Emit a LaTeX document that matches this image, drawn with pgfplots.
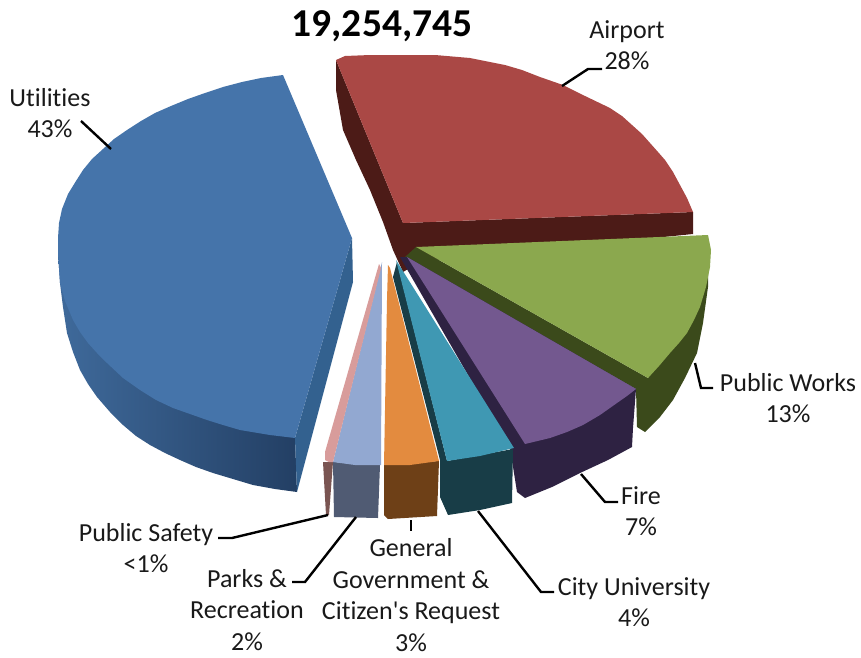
\documentclass[border=0pt]{standalone}
\usepackage{fontspec}
\setmainfont{Carlito}[Ligatures={TeXOff,NoCommon}]
\usepackage{pgfplots}
\pgfplotsset{compat=1.18}
\definecolor{blueTop}{HTML}{4574AA}
\definecolor{blueIn}{HTML}{33618F}
\definecolor{blueA}{HTML}{3F6A9B}
\definecolor{blueB}{HTML}{233F64}
\definecolor{redTop}{HTML}{AA4845}
\definecolor{redSide}{HTML}{4C1B17}
\definecolor{greenTop}{HTML}{8BA84E}
\definecolor{greenSide}{HTML}{3B4A1B}
\definecolor{purpleTop}{HTML}{73588F}
\definecolor{purpleSide}{HTML}{2E2242}
\definecolor{tealTop}{HTML}{3F98B3}
\definecolor{tealSide}{HTML}{183D47}
\definecolor{orangeTop}{HTML}{E38B3F}
\definecolor{orangeSide}{HTML}{6E4017}
\definecolor{lightTop}{HTML}{92A8D1}
\definecolor{lightSide}{HTML}{505B73}
\definecolor{pinkTop}{HTML}{D89C9B}
\definecolor{pinkSide}{HTML}{7A5552}
\newcommand{\lab}[3]{\node[align=center,font=\fontsize{26}{31.5}\selectfont,text=black!90] at (axis cs:#1,#2) {#3};}
\begin{document}
\begin{tikzpicture}
\begin{axis}[
  scale only axis, width=861pt, height=657pt,
  xmin=0, xmax=861, ymin=0, ymax=657, y dir=reverse,
  hide axis, clip=false]
% Utilities: outer rim, cut face, top
\addplot[draw=none, left color=blueA, right color=blueB] coordinates {
 (58,253)(60,283)(63,307)(67,333)(73,352)(80,370)(88,384)(97,397)(110,412)(123,425)(136,436)(150,445)
 (165,453)(180,460)(196,467)(213,473)(233,479)(253,485)(275,489)(297,492)
 (295,438)(240,400)(140,340)} --cycle;
\addplot[draw=none, fill=blueIn] coordinates {(295,438)(297,492)(353,282)(352,238)} --cycle;
\addplot[draw=none, fill=blueTop] coordinates {
 (352,238)(283,75)(261,78)(242,82)(223,87)(205,93)(188,99)(171,106)(155,113)(141,121)(127,130)(114,139)
 (103,149)(92,159)(83,170)(76,181)(68,194)(62,209)(59,223)(58,238)(58,253)(60,283)(65,301)(73,320)(80,332)
 (88,343)(97,353)(107,363)(123,378)(140,390)(156,400)(173,408)(190,414)(207,420)(223,425)(240,430)(270,435)(295,438)} --cycle;
% Airport
\addplot[draw=none, fill=redSide] coordinates {
 (336,60)(336,90)(343,130)(356,160)(370,190)(383,222)(393,250)(403,272)(420,262)(693,234)(693,212)(403,223)} --cycle;
\addplot[draw=none, fill=redTop] coordinates {
 (336,60)(345,56)(370,55)(400,55)(435,55)(470,58)(505,65)(522,70)(540,77)(563,85)(585,96)(610,108)(622,116)(632,125)
 (642,134)(650,143)(658,152)(665,160)(673,172)(680,185)(687,198)(693,212)(403,223)} --cycle;
% Public Works
\addplot[draw=none, fill=greenSide] coordinates {
 (416,247)(648,378)(708,270)(708,287)(703,323)(697,353)(685,378)(673,400)(660,417)(645,432)(637,427)(636,389)(405,257)} --cycle;
\addplot[draw=none, fill=greenTop] coordinates {
 (416,247)(708,235)(711,250)(710,267)(706,287)(700,307)(694,320)(687,333)(679,343)(670,353)(659,366)(648,378)} --cycle;
% Fire
\addplot[draw=none, fill=purpleSide] coordinates {
 (400,257)(510,448)(517,492)(525,498)(552,487)(580,473)(608,460)(632,447)(633,428)(636,389)(407,257)} --cycle;
\addplot[draw=none, fill=purpleTop] coordinates {
 (407,257)(636,389)(627,396)(617,403)(600,415)(583,425)(567,432)(550,438)(525,444)} --cycle;
% City University
\addplot[draw=none, fill=tealSide] coordinates {
 (393,277)(397,262)(447,461)(513,449)(512,503)(480,510)(448,515)(440,497)(440,460)} --cycle;
\addplot[draw=none, fill=tealTop] coordinates {
 (396,260)(514,448)(480,456)(447,461)} --cycle;
% General Government
\addplot[draw=none, fill=orangeSide] coordinates {
 (384,465)(384,515)(388,519)(437,516)(439,461)} --cycle;
\addplot[draw=none, fill=orangeTop] coordinates {
 (388,265)(390,268)(439,461)(410,465)(384,465)(387,300)} --cycle;
% Parks & Recreation
\addplot[draw=none, fill=lightSide] coordinates {
 (333,462)(334,517)(378,518)(380,465)} --cycle;
\addplot[draw=none, fill=lightTop] coordinates {
 (382,262)(381,465)(355,465)(333,462)} --cycle;
% Public Safety
\addplot[draw=none, fill=pinkSide] coordinates {
 (323,462)(326,515)(329,515)(333,462)} --cycle;
\addplot[draw=none, fill=pinkTop] coordinates {
 (379,264)(381,268)(333,462)(329,462)(325,460)(325,452)} --cycle;
% Leader lines
\addplot[black, line width=2.4pt] coordinates {(562,86)(588,69)(602,69)};
\addplot[black, line width=2.4pt] coordinates {(81,121)(111,149)};
\addplot[black, line width=2.4pt] coordinates {(218,538)(232,538)(328,515)};
\addplot[black, line width=2.4pt] coordinates {(292,582)(305,582)(356,517)};
\addplot[black, line width=2.4pt] coordinates {(411,520)(411,531)};
\addplot[black, line width=2.4pt] coordinates {(478,511)(541,592)(554,592)};
\addplot[black, line width=2.4pt] coordinates {(581,474)(605,502)(618,502)};
\addplot[black, line width=2.4pt] coordinates {(695,363)(701,388)(713,388)};
% Total and category labels
\node[font=\fontsize{39.5}{41}\selectfont\bfseries] at (axis cs:382,26) {19,254,745};
\lab{627}{45}{Airport\\28\%}
\lab{50}{113}{Utilities\\43\%}
\lab{788}{398}{Public Works\\13\%}
\lab{641}{511}{Fire\\7\%}
\lab{634}{602}{City University\\4\%}
\lab{146}{548}{Public Safety\\<1\%}
\lab{247}{610}{Parks \&\\Recreation\\2\%}
\lab{411}{595}{General\\Government \&\\Citizen's Request\\3\%}
\end{axis}
\useasboundingbox (0,0) rectangle (861pt,657pt);
\end{tikzpicture}
\end{document}
